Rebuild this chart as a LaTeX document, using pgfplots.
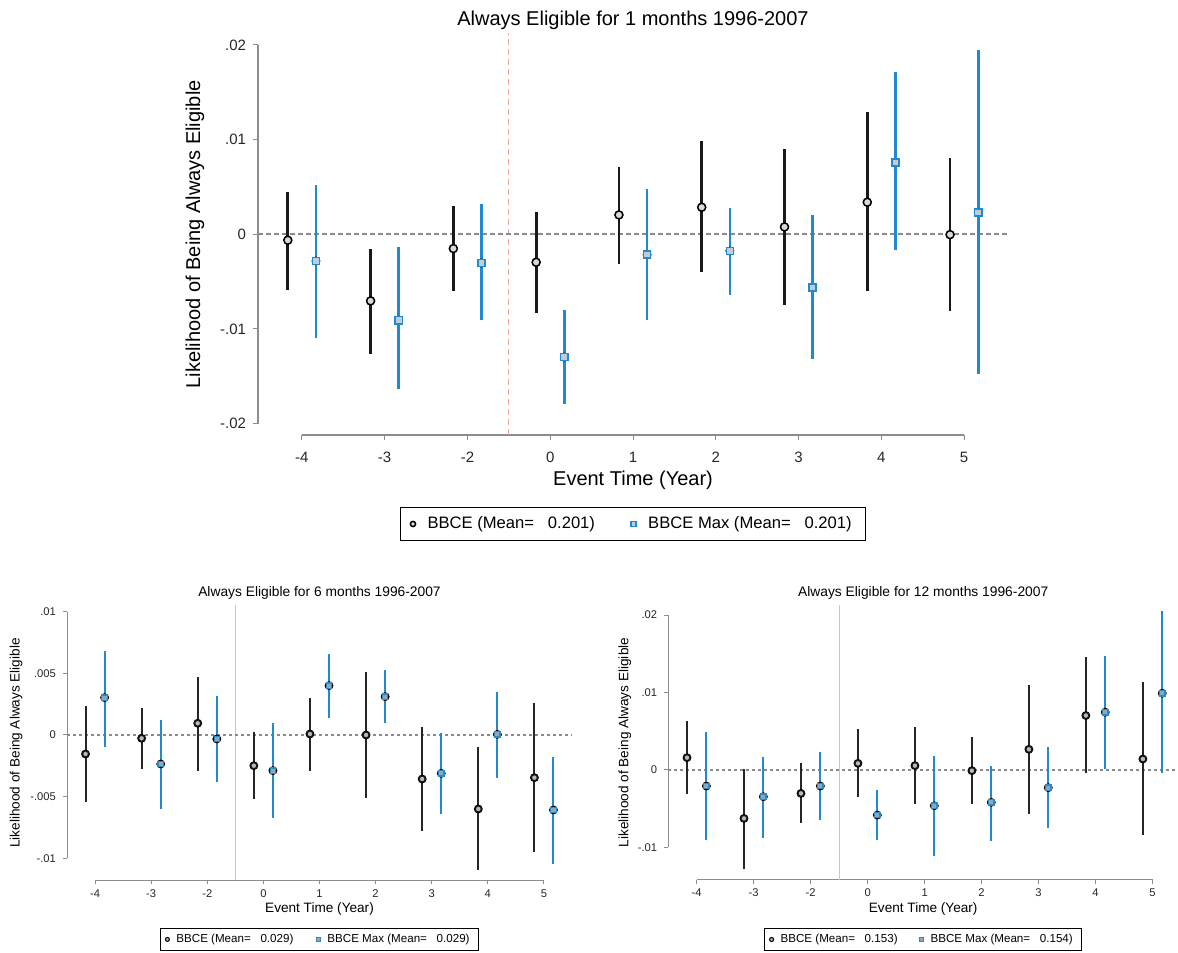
\documentclass[border=0pt]{standalone}
\usepackage{fontspec}
\setmainfont{Liberation Sans}
\usepackage{pgfplots}
\usepackage{pgfplotstable}
\pgfplotsset{compat=1.18}

\definecolor{cblue}{HTML}{2089CF}
\definecolor{axgray}{HTML}{8C8C8C}
\definecolor{zgray}{HTML}{8A8A8A}
\definecolor{vred}{HTML}{E8A8A8}

% ---------- 1 month ----------
\pgfplotstableread{
x y lo hi
-0.17 -0.00063 -0.00585 0.00447
0.83 -0.00704 -0.0126 -0.00151
1.83 -0.00151 -0.00602 0.00296
2.83 -0.00296 -0.00831 0.00236
3.83 0.00204 -0.0031 0.00711
4.83 0.00285 -0.00398 0.00982
5.83 0.00077 -0.0075 0.00905
6.83 0.00338 -0.00602 0.01292
7.83 -0.00004 -0.00813 0.0080
}\tA
\pgfplotstableread{
x y lo hi
0.17 -0.00282 -0.01095 0.00525
1.17 -0.00908 -0.0163 -0.00134
2.17 -0.00303 -0.00908 0.00317
3.17 -0.01296 -0.01796 -0.00803
4.17 -0.00215 -0.00908 0.00482
5.17 -0.00176 -0.00644 0.00278
6.17 -0.00563 -0.01313 0.00208
7.17 0.00757 -0.00169 0.01714
8.17 0.00229 -0.01472 0.01943
}\tAm
% ---------- 6 months ----------
\pgfplotstableread{
x y lo hi
-0.17 -0.00154 -0.00546 0.00238
0.83 -0.00027 -0.00276 0.00222
1.83 0.00095 -0.00292 0.00473
2.83 -0.00249 -0.00522 0.00022
3.83 0.00008 -0.00292 0.00303
4.83 0.0 -0.00514 0.00514
5.83 -0.00357 -0.00776 0.00068
6.83 -0.006 -0.01095 -0.00095
7.83 -0.00346 -0.00946 0.00257
}\tB
\pgfplotstableread{
x y lo hi
0.17 0.00303 -0.00095 0.00681
1.17 -0.00235 -0.006 0.00122
2.17 -0.00032 -0.00384 0.00319
3.17 -0.00289 -0.00676 0.00095
4.17 0.004 0.00141 0.00654
5.17 0.00311 0.00095 0.00527
6.17 -0.00311 -0.00643 0.00014
7.17 0.00005 -0.00351 0.00351
8.17 -0.00608 -0.01046 -0.00176
}\tBm
% ---------- 12 months ----------
\pgfplotstableread{
x y lo hi
-0.17 0.00159 -0.00315 0.00634
0.83 -0.00625 -0.01284 0.00013
1.83 -0.00302 -0.0069 0.00095
2.83 0.00086 -0.00353 0.00526
3.83 0.00056 -0.00444 0.0056
4.83 -0.00009 -0.00444 0.00431
5.83 0.00267 -0.00573 0.01099
6.83 0.00703 -0.00043 0.01457
7.83 0.00142 -0.0084 0.01142
}\tC
\pgfplotstableread{
x y lo hi
0.17 -0.00207 -0.00905 0.00487
1.17 -0.00345 -0.00884 0.00172
2.17 -0.00207 -0.00647 0.00237
3.17 -0.00582 -0.00905 -0.00259
4.17 -0.00461 -0.01108 0.00185
5.17 -0.00418 -0.00914 0.00056
6.17 -0.00228 -0.00746 0.00293
7.17 0.00746 0.00013 0.01478
8.17 0.00991 -0.00043 0.02047
}\tCm

\pgfplotsset{
  evt/.style={
    scale only axis, clip=false, anchor=south west,
    scaled y ticks=false,
    every axis title shift=0pt,
    xtick={0,...,8}, xticklabels={-4,-3,-2,0,1,2,3,4,5},
    axis line style={draw=none},
    tick pos=left, tick align=outside,
    tick style={axgray, line width=0.5pt},
    legend columns=2, legend cell align=left,
    legend style={draw=black, line width=0.6pt, text=black},
    ticklabel style={text=black!85},
  },
  ci/.style={forget plot, only marks, mark=none,
    error bars/.cd, y dir=both, y explicit, error mark=none,
    error bar style={draw=#1, line width=\ciw}},
}

\begin{document}
\begin{tikzpicture}
\path[use as bounding box] (0,0) rectangle (589pt,476.5pt);

% ================= TOP =================
\def\ciw{1.35pt}
\begin{axis}[evt,
  at={(129pt,259pt)}, width=375pt, height=200.75pt,
  xmin=-0.53, xmax=8.53, ymin=-0.0212, ymax=0.0212,
  ytick={-0.02,-0.01,0,0.01,0.02}, yticklabels={-.02,-.01,0,.01,.02},
  major tick length=2.5pt,
  ticklabel style={font=\fontsize{7.5}{9}\selectfont},
  xticklabel style={yshift=-2.5pt},
  title={Always Eligible for 1 months 1996-2007},
  title style={at={(axis description cs:0.5,1.032)}, anchor=center, font=\fontsize{10}{12}\selectfont},
  xlabel={Event Time (Year)},
  xlabel style={at={(axis description cs:0.5,-0.114)}, anchor=center, font=\fontsize{10}{12}\selectfont},
  ylabel={Likelihood of Being Always Eligible},
  ylabel style={at={(axis description cs:-0.084,0.5)}, anchor=center, font=\fontsize{10}{12}\selectfont},
  legend style={at={(axis description cs:0.5,-0.179)}, anchor=north,
    font=\fontsize{8.3}{10}\selectfont, inner xsep=5pt, inner ysep=2.5pt,
    /tikz/every odd column/.append style={column sep=4pt},
    /tikz/every even column/.append style={column sep=16pt}},
  legend image post style={mark size=1.3pt},
]
\addplot[forget plot, axgray, line width=0.6pt] coordinates {(-0.53,-0.02) (-0.53,0.02)};
\addplot[forget plot, axgray, line width=0.6pt] coordinates {(0,-0.0212) (8,-0.0212)};
\addplot[forget plot, vred, line width=0.6pt, dash pattern=on 3pt off 2pt] coordinates {(2.5,-0.0212) (2.5,0.0212)};
\addplot[forget plot, zgray, line width=0.9pt, dash pattern=on 2.5pt off 1.5pt] coordinates {(-0.53,0) (8.53,0)};
\addplot[ci=black!90] table[x=x, y=y, y error plus expr=\thisrow{hi}-\thisrow{y}, y error minus expr=\thisrow{y}-\thisrow{lo}] {\tA};
\addplot[ci=cblue] table[x=x, y=y, y error plus expr=\thisrow{hi}-\thisrow{y}, y error minus expr=\thisrow{y}-\thisrow{lo}] {\tAm};
\addplot[only marks, mark=*, mark size=2pt, mark options={draw=black, fill=gray!30, line width=0.75pt}] table[x=x,y=y] {\tA};
\addlegendentry{BBCE (Mean=\ \ \ 0.201)}
\addplot[only marks, mark=square*, mark size=1.8pt, mark options={draw=cblue, fill=cblue!30!gray!40, line width=0.75pt}] table[x=x,y=y] {\tAm};
\addlegendentry{BBCE Max (Mean=\ \ \ 0.201)}
\end{axis}

% ================= BOTTOM LEFT =================
\def\ciw{1.0pt}
\begin{axis}[evt,
  at={(33.5pt,36.25pt)}, width=252.5pt, height=137.5pt,
  xmin=-0.5, xmax=8.5, ymin=-0.0118, ymax=0.0105,
  ytick={-0.01,-0.005,0,0.005,0.01}, yticklabels={-.01,-.005,0,.005,.01},
  major tick length=2pt,
  ticklabel style={font=\fontsize{5.6}{7}\selectfont},
  xticklabel style={yshift=1pt},
  title={Always Eligible for 6 months 1996-2007},
  title style={at={(axis description cs:0.5,1.045)}, anchor=center, font=\fontsize{6.9}{8}\selectfont},
  xlabel={Event Time (Year)},
  xlabel style={at={(axis description cs:0.5,-0.103)}, anchor=center, font=\fontsize{6.8}{8}\selectfont},
  ylabel={Likelihood of Being Always Eligible},
  ylabel style={at={(axis description cs:-0.101,0.5)}, anchor=center, font=\fontsize{6.8}{8}\selectfont},
  legend style={at={(axis description cs:0.5,-0.171)}, anchor=north,
    font=\fontsize{5.8}{6.5}\selectfont, inner xsep=2.5pt, inner ysep=0.8pt,
    /tikz/every odd column/.append style={column sep=1.5pt},
    /tikz/every even column/.append style={column sep=9.5pt}},
  legend image post style={mark size=1pt},
]
\addplot[forget plot, axgray, line width=0.5pt] coordinates {(-0.5,-0.01) (-0.5,0.01)};
\addplot[forget plot, axgray, line width=0.5pt] coordinates {(0,-0.0118) (8,-0.0118)};
\addplot[forget plot, gray!45, line width=0.5pt] coordinates {(2.5,-0.0118) (2.5,0.0105)};
\addplot[forget plot, zgray, line width=0.8pt, dash pattern=on 1.5pt off 1.5pt] coordinates {(-0.5,0) (8.5,0)};
\addplot[ci=black!85] table[x=x, y=y, y error plus expr=\thisrow{hi}-\thisrow{y}, y error minus expr=\thisrow{y}-\thisrow{lo}] {\tB};
\addplot[ci=cblue] table[x=x, y=y, y error plus expr=\thisrow{hi}-\thisrow{y}, y error minus expr=\thisrow{y}-\thisrow{lo}] {\tBm};
\addplot[only marks, mark=*, mark size=1.5pt, mark options={draw=black!90, fill=gray!55, line width=0.6pt}] table[x=x,y=y] {\tB};
\addlegendentry{BBCE (Mean=\ \ \ 0.029)}
\addplot[only marks, mark=square*, mark size=1.35pt, mark options={draw=cblue!80!gray, fill=cblue!45!gray!70, line width=0.6pt}] table[x=x,y=y] {\tBm};
\addlegendentry{BBCE Max (Mean=\ \ \ 0.029)}
\end{axis}

% ================= BOTTOM RIGHT =================
\begin{axis}[evt,
  at={(334.1pt,36.5pt)}, width=255pt, height=137.5pt,
  xmin=-0.5, xmax=8.45, ymin=-0.0142, ymax=0.0213,
  ytick={-0.01,0,0.01,0.02}, yticklabels={-.01,0,.01,.02},
  major tick length=2pt,
  ticklabel style={font=\fontsize{5.6}{7}\selectfont},
  xticklabel style={yshift=1pt},
  title={Always Eligible for 12 months 1996-2007},
  title style={at={(axis description cs:0.5,1.045)}, anchor=center, font=\fontsize{6.9}{8}\selectfont},
  xlabel={Event Time (Year)},
  xlabel style={at={(axis description cs:0.5,-0.104)}, anchor=center, font=\fontsize{6.8}{8}\selectfont},
  ylabel={Likelihood of Being Always Eligible},
  ylabel style={at={(axis description cs:-0.085,0.5)}, anchor=center, font=\fontsize{6.8}{8}\selectfont},
  legend style={at={(axis description cs:0.5,-0.173)}, anchor=north,
    font=\fontsize{5.8}{6.5}\selectfont, inner xsep=2.5pt, inner ysep=0.8pt,
    /tikz/every odd column/.append style={column sep=1.5pt},
    /tikz/every even column/.append style={column sep=9pt}},
  legend image post style={mark size=1pt},
]
\addplot[forget plot, axgray, line width=0.5pt] coordinates {(-0.5,-0.01) (-0.5,0.02)};
\addplot[forget plot, axgray, line width=0.5pt] coordinates {(0,-0.0142) (8,-0.0142)};
\addplot[forget plot, gray!45, line width=0.5pt] coordinates {(2.5,-0.0142) (2.5,0.0213)};
\addplot[forget plot, zgray, line width=0.8pt, dash pattern=on 1.5pt off 1.5pt] coordinates {(-0.5,0) (8.45,0)};
\addplot[ci=black!85] table[x=x, y=y, y error plus expr=\thisrow{hi}-\thisrow{y}, y error minus expr=\thisrow{y}-\thisrow{lo}] {\tC};
\addplot[ci=cblue] table[x=x, y=y, y error plus expr=\thisrow{hi}-\thisrow{y}, y error minus expr=\thisrow{y}-\thisrow{lo}] {\tCm};
\addplot[only marks, mark=*, mark size=1.5pt, mark options={draw=black!90, fill=gray!55, line width=0.6pt}] table[x=x,y=y] {\tC};
\addlegendentry{BBCE (Mean=\ \ \ 0.153)}
\addplot[only marks, mark=square*, mark size=1.35pt, mark options={draw=cblue!80!gray, fill=cblue!45!gray!70, line width=0.6pt}] table[x=x,y=y] {\tCm};
\addlegendentry{BBCE Max (Mean=\ \ \ 0.154)}
\end{axis}
\end{tikzpicture}
\end{document}
